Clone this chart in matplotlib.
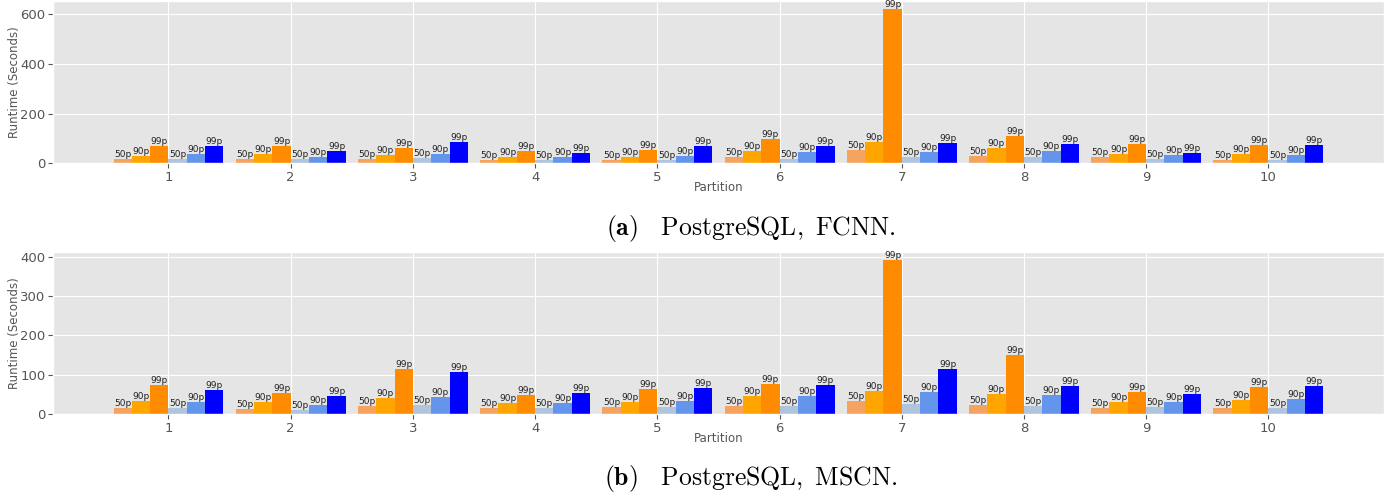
import numpy as np
import matplotlib
matplotlib.use('Agg')
import matplotlib.pyplot as plt

plt.style.use('ggplot')
plt.rcParams['mathtext.fontset'] = 'cm'

# partitions on the x axis
partitions = [1, 2, 3, 4, 5, 6, 7, 8, 9, 10]
labels = ['50p', '90p', '99p', '50p', '90p', '99p']
colors = ['sandybrown', 'orange', 'darkorange', 'lightsteelblue', 'cornflowerblue', 'blue']

# (a) PostgreSQL, FCNN - runtime percentiles per partition
fcnn_a50 = [15, 15, 15, 13, 13, 23, 52, 28, 23, 13]
fcnn_a90 = [28, 36, 32, 25, 25, 50, 87, 60, 39, 39]
fcnn_a99 = [68, 71, 60, 50, 55, 98, 623, 111, 76, 74]
fcnn_b50 = [16, 16, 19, 12, 12, 17, 23, 23, 15, 12]
fcnn_b90 = [36, 23, 36, 25, 29, 47, 47, 51, 31, 33]
fcnn_b99 = [68, 48, 84, 41, 70, 71, 83, 79, 43, 74]

# (b) PostgreSQL, MSCN
mscn_a50 = [15, 13, 20, 15, 18, 20, 33, 23, 15, 15]
mscn_a90 = [33, 31, 41, 28, 31, 46, 58, 51, 31, 36]
mscn_a99 = [74, 53, 114, 48, 64, 76, 392, 150, 56, 69]
mscn_b50 = [15, 10, 23, 15, 18, 20, 25, 20, 18, 15]
mscn_b90 = [31, 23, 43, 28, 33, 46, 56, 48, 31, 38]
mscn_b99 = [61, 46, 107, 53, 66, 74, 114, 71, 51, 71]

fig = plt.figure(figsize=(13.95, 4.96), dpi=100)
ax1 = fig.add_axes([0.038, 0.671, 0.954, 0.327])
ax2 = fig.add_axes([0.038, 0.165, 0.954, 0.327])

width = 0.15
x = np.array(partitions)


def draw(ax, series):
    for i, vals in enumerate(series):
        pos = x + (i - 2.5) * width
        bars = ax.bar(pos, vals, width, color=colors[i])
        for b in bars:
            ax.text(b.get_x() + b.get_width() / 2, b.get_height(), labels[i],
                    ha='center', va='bottom', fontsize=6.5, color='#222222')
    ax.set_xticks(x)
    ax.set_xticklabels([str(p) for p in partitions])
    ax.tick_params(labelsize=9.5, pad=2)
    ax.set_xlabel('Partition', fontsize=8.5)
    ax.set_ylabel('Runtime (Seconds)', fontsize=8.5)
    ax.xaxis.set_label_coords(0.5, -0.112)
    ax.yaxis.set_label_coords(-0.0237, 0.5)


draw(ax1, [fcnn_a50, fcnn_a90, fcnn_a99, fcnn_b50, fcnn_b90, fcnn_b99])
draw(ax2, [mscn_a50, mscn_a90, mscn_a99, mscn_b50, mscn_b90, mscn_b99])
ax1.set_yticks([0, 200, 400, 600])
ax2.set_yticks([0, 100, 200, 300, 400])

fig.text(0.538, 0.54, r'$\mathbf{(a)}\quad\mathrm{PostgreSQL,\ FCNN.}$',
         ha='center', va='center', fontsize=18.5, color='black')
fig.text(0.538, 0.036, r'$\mathbf{(b)}\quad\mathrm{PostgreSQL,\ MSCN.}$',
         ha='center', va='center', fontsize=18.5, color='black')

fig.savefig('out.png', dpi=100, facecolor='white')
